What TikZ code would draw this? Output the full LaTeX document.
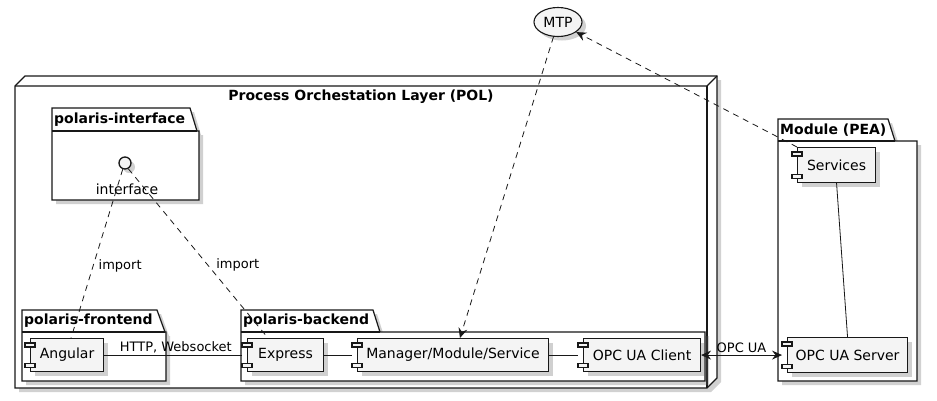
\documentclass[tikz,border=0pt]{standalone}
\usepackage{fontspec}
\setmainfont{DejaVu Sans}
\usetikzlibrary{calc,shapes.geometric,shadows,arrows.meta}

\definecolor{boxfill}{HTML}{F4F4F4}
\definecolor{linegray}{HTML}{181818}

\tikzset{
  shade box/.style={drop shadow={shadow xshift=4pt, shadow yshift=-4pt, opacity=0.3, fill=black!60}},
  comp/.style={draw=linegray, line width=1.1pt, fill=boxfill, shade box, anchor=north west,
    inner sep=0pt, font=\fontsize{14}{16}\selectfont},
  icon/.style={draw=linegray, line width=1.1pt, fill=boxfill},
  pkg/.style={draw=linegray, line width=1.2pt, fill=white, shade box},
  pkgtitle/.style={anchor=west, inner sep=2pt, font=\fontsize{14}{16}\selectfont\bfseries},
  conn/.style={draw=linegray, line width=0.8pt},
  dep/.style={conn, dash pattern=on 6pt off 5pt},
  tip/.style={-{Stealth[length=10pt,width=9pt,inset=3.5pt]}},
  lbl/.style={inner sep=2pt, font=\fontsize{13}{15}\selectfont},
}

\begin{document}
\begin{tikzpicture}[x=1pt, y=-1pt]
  \useasboundingbox (0,0) rectangle (937,400);

  % POL node (3d box)
  \path[pkg] (15,86) -- (25,76) -- (717,76) -- (717,378) -- (707,388) -- (15,388) -- cycle;
  \draw[draw=linegray, line width=1.2pt] (15,86) -- (707,86) -- (717,76);
  \draw[draw=linegray, line width=1.2pt] (707,86) -- (707,388);
  \node[font=\fontsize{14}{16}\selectfont\bfseries] (poltitle) at (361,97) {Process Orchestation Layer (POL)};

  % packages
  \path[pkg] (52,131) -- (52,108) -- (190,108) -- (197,131) -- (199,131) -- (199,200) -- (52,200) -- cycle;
  \draw[draw=linegray, line width=1.2pt] (52,131) -- (197,131);
  \node[pkgtitle] (ifacetitle) at (52,119.5) {polaris-interface};

  \path[pkg] (22,332) -- (22,310) -- (157,310) -- (165,332) -- (166,332) -- (166,381) -- (22,381) -- cycle;
  \draw[draw=linegray, line width=1.2pt] (22,332) -- (165,332);
  \node[pkgtitle] (fronttitle) at (22,321) {polaris-frontend};

  \path[pkg] (241,332) -- (241,310) -- (373,310) -- (380,332) -- (705,332) -- (705,381) -- (241,381) -- cycle;
  \draw[draw=linegray, line width=1.2pt] (241,332) -- (380,332);
  \node[pkgtitle] (backtitle) at (241,321) {polaris-backend};

  \path[pkg] (778,141) -- (778,119) -- (888,119) -- (895,141) -- (917,141) -- (917,381) -- (778,381) -- cycle;
  \draw[draw=linegray, line width=1.2pt] (778,141) -- (895,141);
  \node[pkgtitle] (peatitle) at (778,130) {Module (PEA)};

  % MTP and interface
  \node[ellipse, draw=linegray, line width=1.1pt, fill=boxfill, shade box, minimum width=48pt,
    minimum height=29pt, inner sep=0pt, font=\fontsize{14}{16}\selectfont] (mtp) at (558,22) {MTP};
  \node[circle, draw=linegray, line width=1.3pt, fill=boxfill, shade box, minimum size=12pt,
    inner sep=0pt] (iface) at (125,163) {};
  \node[lbl, font=\fontsize{14}{16}\selectfont] (ifacelabel) at (127,189) {interface};

  % components
  \node[comp, minimum width=73pt, minimum height=33pt] (angular) at (30,338) {Angular};
  \node[comp, minimum width=76pt, minimum height=33pt] (express) at (247,338) {Express};
  \node[comp, minimum width=191pt, minimum height=33pt] (manager) at (357,338) {Manager/Module/Service};
  \node[comp, minimum width=117pt, minimum height=33pt] (client) at (583,338) {OPC UA Client};
  \node[comp, minimum width=78pt, minimum height=35pt] (services) at (797,147) {Services};
  \node[comp, minimum width=120pt, minimum height=35pt] (server) at (787,337) {OPC UA Server};

  \foreach \c in {angular,express,manager,client,services,server} {
    \draw[icon] ($(\c.north west)+(-5,5)$) rectangle ++(10,4);
    \draw[icon] ($(\c.south west)+(-5,-9)$) rectangle ++(10,4);
  }

  % connectors
  \draw[dep] (iface.250) -- ([xshift=4pt]angular.north) node[lbl, pos=0.57, right=3pt] {import};
  \draw[dep] (iface.300) -- ([xshift=21pt]express.north west) node[lbl, pos=0.57, right=6pt] {import};
  \draw[dep, tip] (mtp.253) -- (manager.68);
  \draw[dep, tip] (services.north west) -- (mtp.-29);

  \draw[conn] (angular.east) -- ([xshift=-5pt]express.west) node[lbl, pos=0.52, above] {HTTP, Websocket};
  \draw[conn] (express.east) -- ([xshift=-5pt]manager.west);
  \draw[conn] (manager.east) -- ([xshift=-5pt]client.west);
  \draw[conn, {Stealth[length=10pt,width=9pt,inset=3.5pt]}-{Stealth[length=10pt,width=9pt,inset=3.5pt]}]
    (client.east) -- ([xshift=-5pt]server.west) node[lbl, midway, above] {OPC UA};
  \draw[conn] (services.south) -- (server.north);
\end{tikzpicture}
\end{document}
